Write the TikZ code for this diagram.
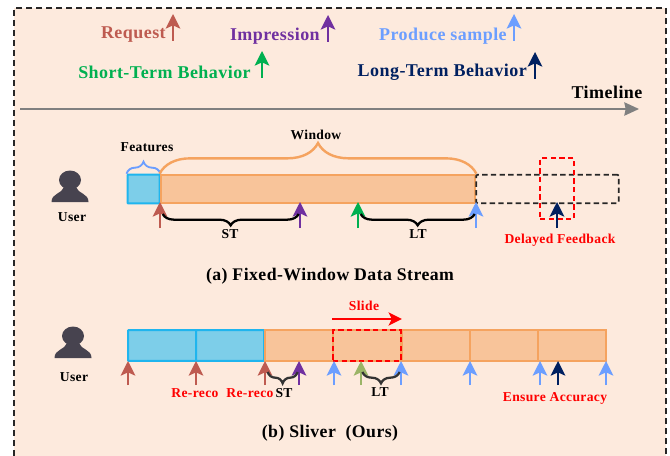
\documentclass[tikz,border=0pt]{standalone}
\usepackage{fontspec}
\setmainfont[LetterSpace=2.5]{Liberation Serif}
\usetikzlibrary{arrows.meta}
\usetikzlibrary{decorations.pathreplacing}

\definecolor{panelbg}{HTML}{FDEADD}
\definecolor{featfill}{HTML}{7DCEE9}
\definecolor{featline}{HTML}{1FB5EE}
\definecolor{winfill}{HTML}{F8C49A}
\definecolor{winline}{HTML}{F5A35F}
\definecolor{reqcol}{HTML}{BE5B50}
\definecolor{impcol}{HTML}{7030A0}
\definecolor{prodcol}{HTML}{6C9EFF}
\definecolor{shortcol}{HTML}{00B050}
\definecolor{longcol}{HTML}{002060}
\definecolor{slicol}{HTML}{9BB467}
\definecolor{iconcol}{HTML}{47434F}

\tikzset{
  lbl/.style={font=\bfseries\fontsize{#1}{#1}\selectfont, inner sep=0pt},
  featbox/.style={draw=featline, fill=featfill, line width=1.5pt, minimum height=21.5pt, inner sep=0pt, rounded corners=0.5pt},
  winbox/.style={draw=winline, fill=winfill, line width=1.5pt, minimum height=21.5pt, inner sep=0pt},
  evt/.style={-{Stealth[length=11pt, width=11pt, inset=2.5pt]}, line width=1.4pt},
  reddash/.style={draw=red, dashed, dash pattern=on 4pt off 2.5pt, line width=1.3pt, inner sep=0pt},
  bracket/.style={decorate, decoration={brace, amplitude=8.5pt, mirror}, line width=1.7pt},
  usericon/.pic={
    \fill[iconcol] (0,-10) circle (11 and 9.5);
    \fill[iconcol] (-18.5,12) .. controls (-18.5,3) and (-8,4) .. (-6,-3) -- (6,-3) .. controls (8,4) and (18.5,3) .. (18.5,12) -- cycle;
  }
}

\begin{document}
\begin{tikzpicture}[x=0.75pt, y=-0.75pt]
  \useasboundingbox (0,0) rectangle (670,456);
  \path[fill=panelbg] (14,8) rectangle (666,456);
  \draw[black!85, dashed, dash pattern=on 4.5pt off 3pt, line width=1.2pt] (14,456) -- (14,8) -- (666,8) -- (666,456);

  % legend
  \node[lbl=13.5, text=reqcol, anchor=east] (Request) at (166,35) {Request};
  \node[lbl=13.5, text=impcol, anchor=east] (Impression) at (320,36) {Impression};
  \node[lbl=13.5, text=prodcol, anchor=east] (Produce) at (507,36) {Produce sample};
  \node[lbl=13.5, text=shortcol, anchor=east] (Short) at (251,72) {Short-Term Behavior};
  \node[lbl=13.5, text=longcol, anchor=east] (Long) at (527,72) {Long-Term Behavior};
  \foreach \name/\col/\xx/\ya/\yb in {Request/reqcol/173/41/14, Impression/impcol/328/42/15, Produce/prodcol/514/41/14, Short/shortcol/262/78/51, Long/longcol/535/79/52}{
    \coordinate (\name-a) at (\xx,\ya);
    \coordinate (\name-b) at (\xx,\yb);
    \draw[evt, \col] (\name-a) -- (\name-b);
  }

  % timeline
  \coordinate (TimeStart) at (20,109);
  \coordinate (TimeEnd) at (639,109);
  \draw[-{Stealth[length=11pt, width=10pt, inset=1pt]}, line width=1.3pt, black!50] (TimeStart) -- (TimeEnd);
  \node[lbl=13.5] (Timeline) at (607,92) {Timeline};

  % (a) fixed window
  \pic at (70,190) {usericon};
  \node[lbl=10.2] (UserA) at (72,217) {User};
  \node[featbox, minimum width=24pt] (Feat) at (143.5,189) {};
  \node[winbox, minimum width=236pt] (Win) at (318,189) {};
  \node[draw=black!85, dashed, dash pattern=on 4pt off 2.5pt, line width=1.3pt, minimum width=107pt, minimum height=21.5pt, inner sep=0pt, rounded corners=1pt] (Late) at (547.5,189) {};
  \node[reddash, minimum width=25.5pt, minimum height=45.5pt] (Delay) at (557,188.5) {};
  \draw[decorate, decoration={brace, amplitude=9pt}, prodcol, line width=1.4pt] (Feat.north west) -- (Feat.north east);
  \draw[decorate, decoration={brace, amplitude=23pt}, winline, line width=1.8pt] (Win.north west) -- (Win.north east);
  \node[lbl=10.2] (FeatLbl) at (147,147) {Features};
  \node[lbl=10.2] (WinLbl) at (316,135) {Window};

  \foreach \name/\col/\xx in {A1/reqcol/160, A2/impcol/300, A3/shortcol/358, A4/prodcol/476, A5/longcol/557}{
    \coordinate (\name-a) at (\xx,228);
    \coordinate (\name-b) at (\xx,202);
    \draw[evt, \col] (\name-a) -- (\name-b);
  }
  \draw[bracket] ([xshift=2pt]A1-b |- 0,214) -- ([xshift=-1pt]A2-b |- 0,214);
  \draw[bracket] ([xshift=2pt]A3-b |- 0,214) -- ([xshift=-1pt]A4-b |- 0,214);
  \node[lbl=10.2] (STa) at (230,234) {ST};
  \node[lbl=10.2] (LTa) at (418,234) {LT};
  \node[lbl=10.2, text=red] (Delayed) at (560,240) {Delayed Feedback};
  \node[lbl=13.3] (CapA) at (330,276) {(a) Fixed-Window Data Stream};

  % (b) sliver
  \pic at (73,346) {usericon};
  \node[lbl=10.2] (UserB) at (74,377) {User};
  \foreach \name/\xx in {B1/162, B2/230}{
    \node[featbox, minimum width=51pt, minimum height=23pt] (\name) at (\xx,345.5) {};
  }
  \foreach \name/\xx in {B3/298.5, B4/367, B5/435.5, B6/504, B7/572}{
    \node[winbox, minimum width=51pt, minimum height=23pt] (\name) at (\xx,345.5) {};
  }
  \node[reddash, minimum width=51pt, minimum height=23pt] (Wnd) at (367,345.5) {};
  \coordinate (SlideA) at (Wnd.west |- 0,319);
  \coordinate (SlideB) at (Wnd.east |- 0,319);
  \draw[-{Stealth[length=10pt, width=10pt, inset=2.5pt]}, red, line width=1.2pt] (SlideA) -- (SlideB);
  \node[lbl=10.2, text=red] (Slide) at (364,306) {Slide};

  \foreach \name/\col/\xx in {R1/reqcol/128, R2/reqcol/196, R3/reqcol/265, I1/impcol/299, P1/prodcol/334, G1/slicol/361, P2/prodcol/401, P3/prodcol/470, P4/prodcol/540, N1/longcol/558, P5/prodcol/606}{
    \coordinate (\name-a) at (\xx,385);
    \coordinate (\name-b) at (\xx,361);
    \draw[evt, \col] (\name-a) -- (\name-b);
  }
  \draw[bracket, black!80] ([xshift=2pt]R3-b |- 0,372) -- ([xshift=-1pt]I1-b |- 0,372);
  \draw[bracket, black!80] ([xshift=1pt]G1-b |- 0,372) -- ([xshift=-1pt]P2-b |- 0,372);
  \node[lbl=10.2, text=red] (Reco1) at (195,393) {Re-reco};
  \node[lbl=10.2, text=red] (Reco2) at (250,393) {Re-reco};
  \node[lbl=10.2] (STb) at (284,393) {ST};
  \node[lbl=10.2] (LTb) at (380,392) {LT};
  \node[lbl=10.2, text=red] (Ensure) at (555,398) {Ensure Accuracy};
  \node[lbl=13.3] (CapB) at (330,433) {(b) Sliver\ \ (Ours)};
\end{tikzpicture}
\end{document}
